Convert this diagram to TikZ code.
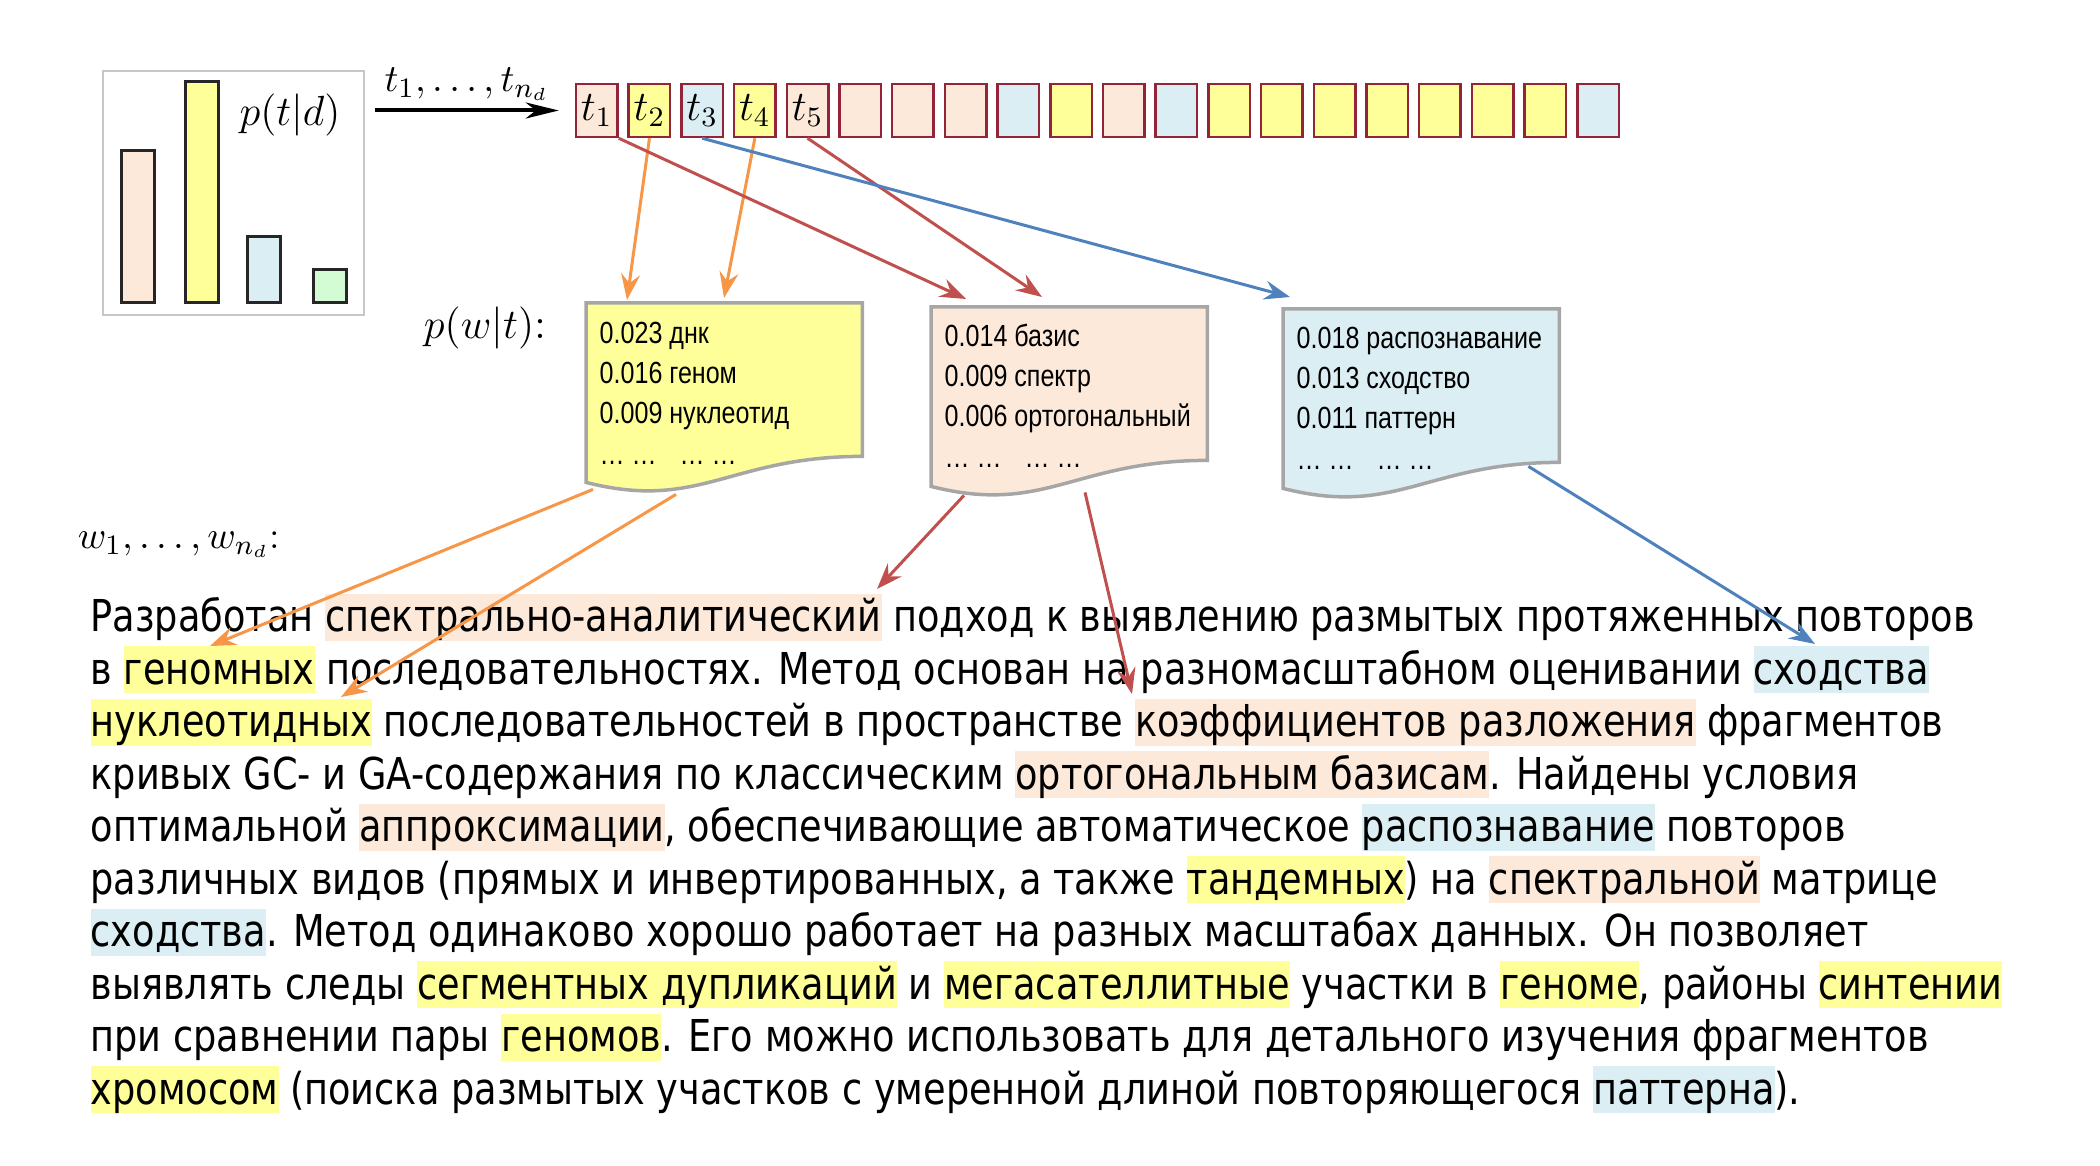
\documentclass[tikz,border=0pt]{standalone}
\usepackage{fontspec}
\usepackage{amsmath,amssymb}
\usetikzlibrary{arrows.meta,positioning,calc}
\newfontfamily\bodyfont[FakeStretch=0.835]{DejaVu Sans}
\newfontfamily\listfont[FakeStretch=0.82]{Liberation Sans}

\definecolor{pe}{HTML}{FDE9D9}
\definecolor{ye}{HTML}{FFFF99}
\definecolor{bl}{HTML}{DAEEF3}
\definecolor{gr}{HTML}{D4FCD4}
\definecolor{arrred}{HTML}{C0504D}
\definecolor{arrorange}{HTML}{F79646}
\definecolor{arrblue}{HTML}{4F81BD}
\definecolor{tokline}{HTML}{94243A}
\definecolor{docline}{HTML}{A6A6A6}

\newcommand{\hword}[2]{{\setlength{\fboxsep}{0pt}\colorbox{#1}{\rule[-2.6pt]{0pt}{13.4pt}#2}}}
\newcommand{\moredots}{… …\hspace{6.5pt}… …}

\begin{document}
\begin{tikzpicture}[x=0.1mm, y=-0.1mm,
    tok/.style={draw=tokline, line width=0.25mm, minimum width=4.15mm, minimum height=5.3mm, inner sep=0pt, font=\fontsize{12}{14}\selectfont},
    bar/.style={draw=black!85, line width=0.3mm},
    doc/.style={minimum width=27.5mm, minimum height=15.2mm, inner sep=0pt, anchor=north west},
    docedge/.style={draw=docline, line width=0.35mm},
    words/.style={anchor=north west, inner sep=0pt, align=left, font=\listfont\fontsize{8.7}{11.5}\selectfont},
    link/.style={line width=0.3mm, -{Stealth[length=2.6mm, width=1.9mm, inset=0.9mm]}}]
\useasboundingbox (0,0) rectangle (2100,1166);

% p(t|d)
\node[draw=black!22, line width=0.2mm, minimum width=26.1mm, minimum height=24.4mm, inner sep=0pt, anchor=north west] (hist) at (102,70) {};
\draw[bar, fill=pe] (121,303) rectangle (154,151);
\draw[bar, fill=ye] (185,303) rectangle (218,82);
\draw[bar, fill=bl] (247,303) rectangle (280,237);
\draw[bar, fill=gr] (313,303) rectangle (346,270);
\node[font=\fontsize{13}{15}\selectfont] (ptd) at (290,115) {$p(t|d)$};

% topics of the document
\foreach \c [count=\i] in {pe,ye,bl,ye,pe,pe,pe,pe,bl,ye,pe,bl,ye,ye,ye,ye,ye,ye,ye,bl}
  \node[tok, fill=\c] (t\i) at ({596.75+(\i-1)*52.7},110.5) {\ifnum\i<6 $t_{\i}$\fi};
\draw[line width=0.4mm, -{Stealth[length=3.3mm, width=1.6mm, inset=1mm]}] ([xshift=1mm]hist.east |- t1.west) -- ([xshift=-1.6mm]t1.west)
  node[midway, above=-0.4mm, font=\fontsize{11}{13}\selectfont] (tseq) {$t_1,\ldots,t_{n_d}$};

% p(w|t)
\node[font=\fontsize{12.5}{15}\selectfont] (pwt) at (485,328) {$p(w|t)$:};

\node[doc] (doc1) at (586,303) {};
\draw[docedge, fill=ye] (doc1.north west) -- (doc1.north east) -- (doc1.south east)
  .. controls ([xshift=-13.3mm]doc1.south east) and ([xshift=11.4mm,yshift=-5.5mm]doc1.south west) .. ([yshift=-2.6mm]doc1.south west) -- cycle;
\node[words] (w1) at ([xshift=1.3mm,yshift=-1.8mm]doc1.north west) {0.023 днк\\0.016 геном\\0.009 нуклеотид\\\moredots};

\node[doc] (doc2) at (931,307) {};
\draw[docedge, fill=pe] (doc2.north west) -- (doc2.north east) -- (doc2.south east)
  .. controls ([xshift=-13.3mm]doc2.south east) and ([xshift=11.4mm,yshift=-5.5mm]doc2.south west) .. ([yshift=-2.6mm]doc2.south west) -- cycle;
\node[words] (w2) at ([xshift=1.3mm,yshift=-1.6mm]doc2.north west) {0.014 базис\\0.009 спектр\\0.006 ортогональный\\\moredots};

\node[doc] (doc3) at (1283,309) {};
\draw[docedge, fill=bl] (doc3.north west) -- (doc3.north east) -- (doc3.south east)
  .. controls ([xshift=-13.3mm]doc3.south east) and ([xshift=11.4mm,yshift=-5.5mm]doc3.south west) .. ([yshift=-2.6mm]doc3.south west) -- cycle;
\node[words] (w3) at ([xshift=1.3mm,yshift=-1.7mm]doc3.north west) {0.018 распознавание\\0.013 сходство\\0.011 паттерн\\\moredots};

\draw[link, arrorange] (t2.south) -- ([xshift=4.1mm,yshift=0.3mm]doc1.north west);
\draw[link, arrorange] (t4.south) -- ([xshift=13.8mm,yshift=0.5mm]doc1.north west);
\draw[link, arrred] (t1.south east) -- ([xshift=3.5mm,yshift=0.8mm]doc2.north west);
\draw[link, arrred] (t5.south) -- ([xshift=11.1mm,yshift=1mm]doc2.north west);
\draw[link, arrblue] (t3.south) -- ([xshift=0.7mm,yshift=1.2mm]doc3.north west);

% w_1,...,w_nd
\node[font=\fontsize{11}{13}\selectfont] (wseq) at (179,545) {$w_1,\ldots,w_{n_d}$:};
\node[anchor=north west, inner sep=0pt, align=left, font=\bodyfont\fontsize{12.5}{14.94}\selectfont] (abstract) at (90,593) {%
Разработан \hword{pe}{спектрально-аналитический} подход к выявлению размытых протяженных повторов\\
в \hword{ye}{геномных} последовательностях. Метод основан на разномасштабном оценивании \hword{bl}{сходства}\\
\hword{ye}{нуклеотидных} последовательностей в пространстве \hword{pe}{коэффициентов разложения} фрагментов\\
кривых GC- и GA-содержания по классическим \hword{pe}{ортогональным базисам}. Найдены условия\\
оптимальной \hword{pe}{аппроксимации}, обеспечивающие автоматическое \hword{bl}{распознавание} повторов\\
различных видов (прямых и инвертированных, а также \hword{ye}{тандемных}) на \hword{pe}{спектральной} матрице\\
\hword{bl}{сходства}. Метод одинаково хорошо работает на разных масштабах данных. Он позволяет\\
выявлять следы \hword{ye}{сегментных дупликаций} и \hword{ye}{мегасателлитные} участки в \hword{ye}{геноме}, районы \hword{ye}{синтении}\\
при сравнении пары \hword{ye}{геномов}. Его можно использовать для детального изучения фрагментов\\
\hword{ye}{хромосом} (поиска размытых участков с умеренной длиной повторяющегося \hword{bl}{паттерна}).};

\coordinate (genomnyh) at (210,646);
\coordinate (nukleotid) at (341,697);
\coordinate (spektr) at (877,589);
\coordinate (koeff) at (1132,694);
\coordinate (shodstvo) at (1815,644);
\draw[link, arrorange] ([xshift=0.7mm,yshift=-3.3mm]doc1.south west) -- (genomnyh);
\draw[link, arrorange] ([xshift=9mm,yshift=-3.8mm]doc1.south west) -- (nukleotid);
\draw[link, arrred] ([xshift=3.3mm,yshift=-3.5mm]doc2.south west) -- (spektr);
\draw[link, arrred] ([xshift=15.4mm,yshift=-3.2mm]doc2.south west) -- (koeff);
\draw[link, arrblue] ([xshift=-3.1mm,yshift=-0.4mm]doc3.south east) -- (shodstvo);
\end{tikzpicture}
\end{document}
